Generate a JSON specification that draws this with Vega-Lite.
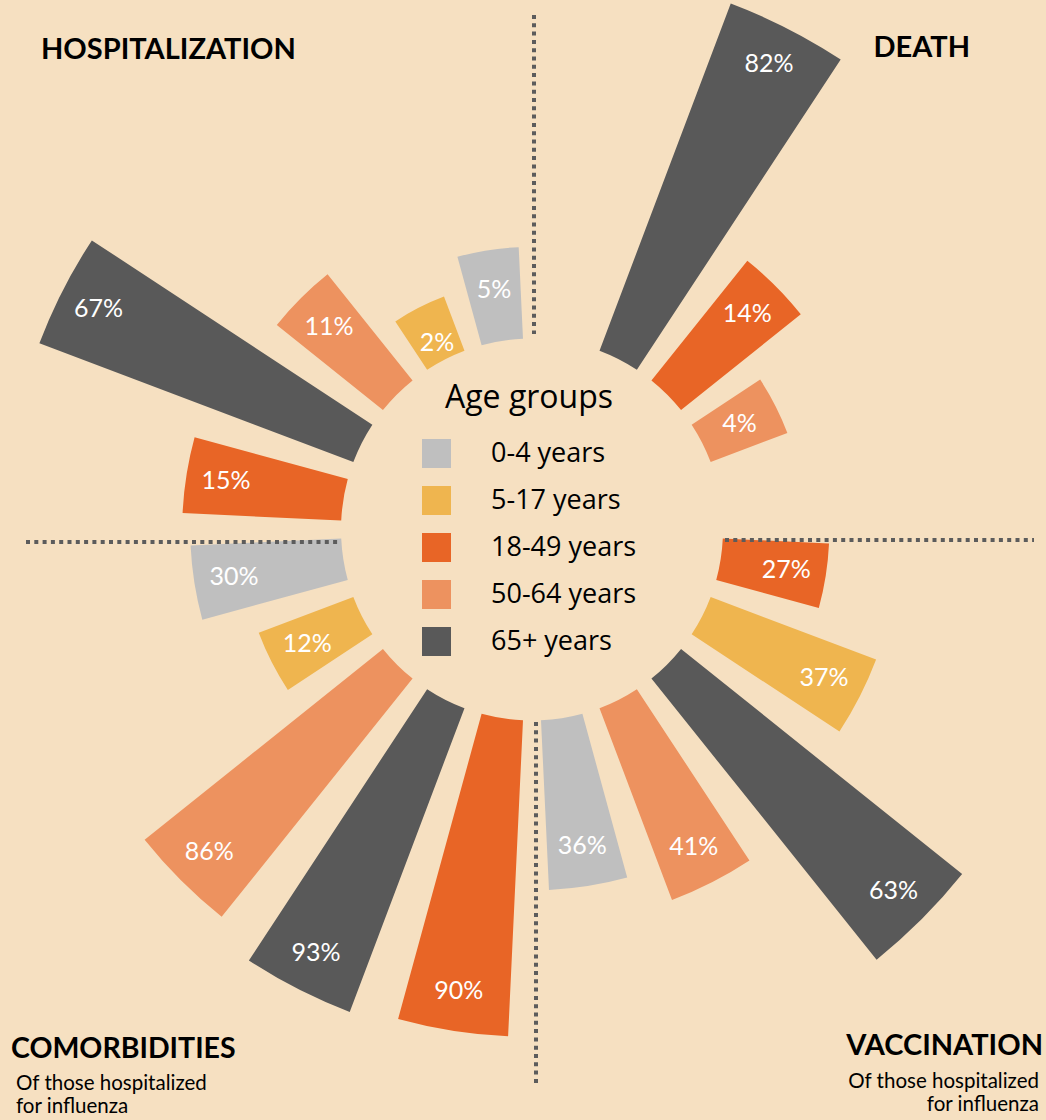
{
  "$schema": "https://vega.github.io/schema/vega-lite/v6.json",
  "width": 1028,
  "height": 1059,
  "padding": {"left": 18, "top": 0, "right": 0, "bottom": 61},
  "autosize": {"type": "none"},
  "background": "#F6E0C1",
  "config": {"view": {"stroke": null}, "font": "Lato"},
  "datasets": {
    "bars": [
      {"panel": "Hospitalization", "age": "0-4 years", "value": 0.05},
      {"panel": "Hospitalization", "age": "5-17 years", "value": 0.02},
      {"panel": "Hospitalization", "age": "18-49 years", "value": 0.15},
      {"panel": "Hospitalization", "age": "50-64 years", "value": 0.11},
      {"panel": "Hospitalization", "age": "65+ years", "value": 0.67},
      {"panel": "Death", "age": "18-49 years", "value": 0.14},
      {"panel": "Death", "age": "50-64 years", "value": 0.04},
      {"panel": "Death", "age": "65+ years", "value": 0.82},
      {"panel": "Comorbidities", "age": "0-4 years", "value": 0.30},
      {"panel": "Comorbidities", "age": "5-17 years", "value": 0.12},
      {"panel": "Comorbidities", "age": "18-49 years", "value": 0.90},
      {"panel": "Comorbidities", "age": "50-64 years", "value": 0.86},
      {"panel": "Comorbidities", "age": "65+ years", "value": 0.93},
      {"panel": "Vaccination", "age": "0-4 years", "value": 0.36},
      {"panel": "Vaccination", "age": "5-17 years", "value": 0.37},
      {"panel": "Vaccination", "age": "18-49 years", "value": 0.27},
      {"panel": "Vaccination", "age": "50-64 years", "value": 0.41},
      {"panel": "Vaccination", "age": "65+ years", "value": 0.63}
    ]
  },
  "data": {"name": "bars"},
  "resolve": {"scale": {"theta": "independent", "radius": "independent"}},
  "layer": [
    {
      "transform": [{"filter": "datum.panel === 'Hospitalization'"}],
      "encoding": {
        "theta": {"field": "age", "type": "nominal", "scale": {"domain": ["18-49 years", "65+ years", "50-64 years", "5-17 years", "0-4 years"], "range": [4.712389, 6.283185], "paddingInner": 0.3, "paddingOuter": 0.15}},
        "radius": {"field": "value", "type": "quantitative", "stack": null, "scale": {"type": "sqrt", "domain": [0, 1], "range": [191, 601]}},
        "color": {"field": "age", "type": "nominal", "scale": {"domain": ["0-4 years", "5-17 years", "18-49 years", "50-64 years", "65+ years"], "range": ["#BFBFBF", "#EFB54F", "#E86526", "#ED925F", "#595959"]},
          "legend": {"orient": "none", "legendX": 404, "legendY": 383, "padding": 0, "title": "Age groups", "titleFont": "Open Sans", "titleFontSize": 32, "titleFontWeight": "normal", "titleColor": "#000", "titleAnchor": "middle", "titlePadding": 24, "symbolType": "square", "symbolSize": 841, "symbolStrokeWidth": 0, "symbolOpacity": 1, "labelFont": "Open Sans", "labelFontSize": 27, "labelColor": "#000", "labelOffset": 40, "labelLimit": 300, "rowPadding": 18,
            "encode": {"symbols": {"update": {"fill": {"signal": "datum.label === '65+ years' ? '#474747' : scale('color', datum.value)"}}}}}}
      },
      "layer": [
        {"mark": {"type": "arc"}, "encoding": {"radius2": {"value": 191}}},
        {"mark": {"type": "text", "radiusOffset": -40, "fontSize": 25}, "encoding": {"text": {"field": "value", "type": "quantitative", "format": ".0%"}, "color": {"value": "#FFFFFF"}}}
      ]
    },
    {
      "transform": [{"filter": "datum.panel === 'Death'"}],
      "encoding": {
        "theta": {"field": "age", "type": "nominal", "scale": {"domain": ["65+ years", "18-49 years", "50-64 years"], "range": [0.314159, 1.256637], "paddingInner": 0.3, "paddingOuter": 0.15}},
        "radius": {"field": "value", "type": "quantitative", "stack": null, "scale": {"type": "sqrt", "domain": [0, 1], "range": [191, 601]}},
        "color": {"field": "age", "type": "nominal", "scale": {"domain": ["0-4 years", "5-17 years", "18-49 years", "50-64 years", "65+ years"], "range": ["#BFBFBF", "#EFB54F", "#E86526", "#ED925F", "#595959"]}}
      },
      "layer": [
        {"mark": {"type": "arc"}, "encoding": {"radius2": {"value": 191}}},
        {"mark": {"type": "text", "radiusOffset": -40, "fontSize": 25}, "encoding": {"text": {"field": "value", "type": "quantitative", "format": ".0%"}, "color": {"value": "#FFFFFF"}}}
      ]
    },
    {
      "transform": [{"filter": "datum.panel === 'Vaccination'"}],
      "encoding": {
        "theta": {"field": "age", "type": "nominal", "scale": {"domain": ["18-49 years", "5-17 years", "65+ years", "50-64 years", "0-4 years"], "range": [1.570796, 3.141593], "paddingInner": 0.3, "paddingOuter": 0.15}},
        "radius": {"field": "value", "type": "quantitative", "stack": null, "scale": {"type": "linear", "domain": [0, 1], "range": [107, 812]}},
        "color": {"field": "age", "type": "nominal", "scale": {"domain": ["0-4 years", "5-17 years", "18-49 years", "50-64 years", "65+ years"], "range": ["#BFBFBF", "#EFB54F", "#E86526", "#ED925F", "#595959"]}}
      },
      "layer": [
        {"mark": {"type": "arc"}, "encoding": {"radius2": {"value": 191}}},
        {"mark": {"type": "text", "radiusOffset": -40, "fontSize": 25}, "encoding": {"text": {"field": "value", "type": "quantitative", "format": ".0%"}, "color": {"value": "#FFFFFF"}}}
      ]
    },
    {
      "transform": [{"filter": "datum.panel === 'Comorbidities'"}],
      "encoding": {
        "theta": {"field": "age", "type": "nominal", "scale": {"domain": ["18-49 years", "65+ years", "50-64 years", "5-17 years", "0-4 years"], "range": [3.141593, 4.712389], "paddingInner": 0.3, "paddingOuter": 0.15}},
        "radius": {"field": "value", "type": "quantitative", "stack": null, "scale": {"type": "linear", "domain": [0, 1], "range": [259, 535]}},
        "color": {"field": "age", "type": "nominal", "scale": {"domain": ["0-4 years", "5-17 years", "18-49 years", "50-64 years", "65+ years"], "range": ["#BFBFBF", "#EFB54F", "#E86526", "#ED925F", "#595959"]}}
      },
      "layer": [
        {"mark": {"type": "arc"}, "encoding": {"radius2": {"value": 191}}},
        {"mark": {"type": "text", "radiusOffset": -40, "fontSize": 25}, "encoding": {"text": {"field": "value", "type": "quantitative", "format": ".0%"}, "color": {"value": "#FFFFFF"}}}
      ]
    },
    {
      "data": {"values": [{"line": "top"}]},
      "mark": {"type": "rule", "color": "#5C5C5C", "strokeWidth": 4, "strokeDash": [4, 4.3], "strokeCap": "butt"},
      "encoding": {
        "x": {"datum": 534, "type": "quantitative", "scale": {"domain": [0, 1046], "range": [-18, 1028]}, "axis": null},
        "y": {"datum": 15, "type": "quantitative", "scale": {"domain": [0, 1120], "range": [0, 1120]}, "axis": null},
        "y2": {"datum": 334}
      }
    },
    {
      "data": {"values": [{"line": "bottom"}]},
      "mark": {"type": "rule", "color": "#5C5C5C", "strokeWidth": 4, "strokeDash": [4, 4.3], "strokeCap": "butt"},
      "encoding": {
        "x": {"datum": 536, "type": "quantitative", "scale": {"domain": [0, 1046], "range": [-18, 1028]}, "axis": null},
        "y": {"datum": 722, "type": "quantitative", "scale": {"domain": [0, 1120], "range": [0, 1120]}, "axis": null},
        "y2": {"datum": 1083}
      }
    },
    {
      "data": {"values": [{"line": "left"}]},
      "mark": {"type": "rule", "color": "#5C5C5C", "strokeWidth": 4, "strokeDash": [4, 4.3], "strokeCap": "butt"},
      "encoding": {
        "x": {"datum": 26, "type": "quantitative", "scale": {"domain": [0, 1046], "range": [-18, 1028]}, "axis": null},
        "x2": {"datum": 340},
        "y": {"datum": 542, "type": "quantitative", "scale": {"domain": [0, 1120], "range": [0, 1120]}, "axis": null}
      }
    },
    {
      "data": {"values": [{"line": "right"}]},
      "mark": {"type": "rule", "color": "#5C5C5C", "strokeWidth": 4, "strokeDash": [4, 4.3], "strokeCap": "butt"},
      "encoding": {
        "x": {"datum": 725, "type": "quantitative", "scale": {"domain": [0, 1046], "range": [-18, 1028]}, "axis": null},
        "x2": {"datum": 1034},
        "y": {"datum": 540, "type": "quantitative", "scale": {"domain": [0, 1120], "range": [0, 1120]}, "axis": null}
      }
    },
    {
      "data": {"values": [{"t": "HOSPITALIZATION"}]},
      "mark": {"type": "text", "align": "left", "baseline": "alphabetic", "fontSize": 29, "fontWeight": "bold", "color": "#000000"},
      "encoding": {
        "x": {"datum": 41, "type": "quantitative", "scale": {"domain": [0, 1046], "range": [-18, 1028]}, "axis": null},
        "y": {"datum": 59, "type": "quantitative", "scale": {"domain": [0, 1120], "range": [0, 1120]}, "axis": null},
        "text": {"field": "t"}
      }
    },
    {
      "data": {"values": [{"t": "DEATH"}]},
      "mark": {"type": "text", "align": "right", "baseline": "alphabetic", "fontSize": 29, "fontWeight": "bold", "color": "#000000"},
      "encoding": {
        "x": {"datum": 970, "type": "quantitative", "scale": {"domain": [0, 1046], "range": [-18, 1028]}, "axis": null},
        "y": {"datum": 57, "type": "quantitative", "scale": {"domain": [0, 1120], "range": [0, 1120]}, "axis": null},
        "text": {"field": "t"}
      }
    },
    {
      "data": {"values": [{"t": "COMORBIDITIES"}]},
      "mark": {"type": "text", "align": "left", "baseline": "alphabetic", "fontSize": 28.5, "fontWeight": "bold", "color": "#000000"},
      "encoding": {
        "x": {"datum": 11, "type": "quantitative", "scale": {"domain": [0, 1046], "range": [-18, 1028]}, "axis": null},
        "y": {"datum": 1058, "type": "quantitative", "scale": {"domain": [0, 1120], "range": [0, 1120]}, "axis": null},
        "text": {"field": "t"}
      }
    },
    {
      "data": {"values": [{"t": "VACCINATION"}]},
      "mark": {"type": "text", "align": "right", "baseline": "alphabetic", "fontSize": 29, "fontWeight": "bold", "color": "#000000"},
      "encoding": {
        "x": {"datum": 1043, "type": "quantitative", "scale": {"domain": [0, 1046], "range": [-18, 1028]}, "axis": null},
        "y": {"datum": 1055, "type": "quantitative", "scale": {"domain": [0, 1120], "range": [0, 1120]}, "axis": null},
        "text": {"field": "t"}
      }
    },
    {
      "data": {"values": [{"t": "Of those hospitalized\nfor influenza"}]},
      "mark": {"type": "text", "align": "left", "baseline": "alphabetic", "fontSize": 20.5, "lineBreak": "\n", "lineHeight": 23, "color": "#000000"},
      "encoding": {
        "x": {"datum": 16, "type": "quantitative", "scale": {"domain": [0, 1046], "range": [-18, 1028]}, "axis": null},
        "y": {"datum": 1090, "type": "quantitative", "scale": {"domain": [0, 1120], "range": [0, 1120]}, "axis": null},
        "text": {"field": "t"}
      }
    },
    {
      "data": {"values": [{"t": "Of those hospitalized\nfor influenza"}]},
      "mark": {"type": "text", "align": "right", "baseline": "alphabetic", "fontSize": 20.5, "lineBreak": "\n", "lineHeight": 23, "color": "#000000"},
      "encoding": {
        "x": {"datum": 1039, "type": "quantitative", "scale": {"domain": [0, 1046], "range": [-18, 1028]}, "axis": null},
        "y": {"datum": 1088, "type": "quantitative", "scale": {"domain": [0, 1120], "range": [0, 1120]}, "axis": null},
        "text": {"field": "t"}
      }
    }
  ]
}
